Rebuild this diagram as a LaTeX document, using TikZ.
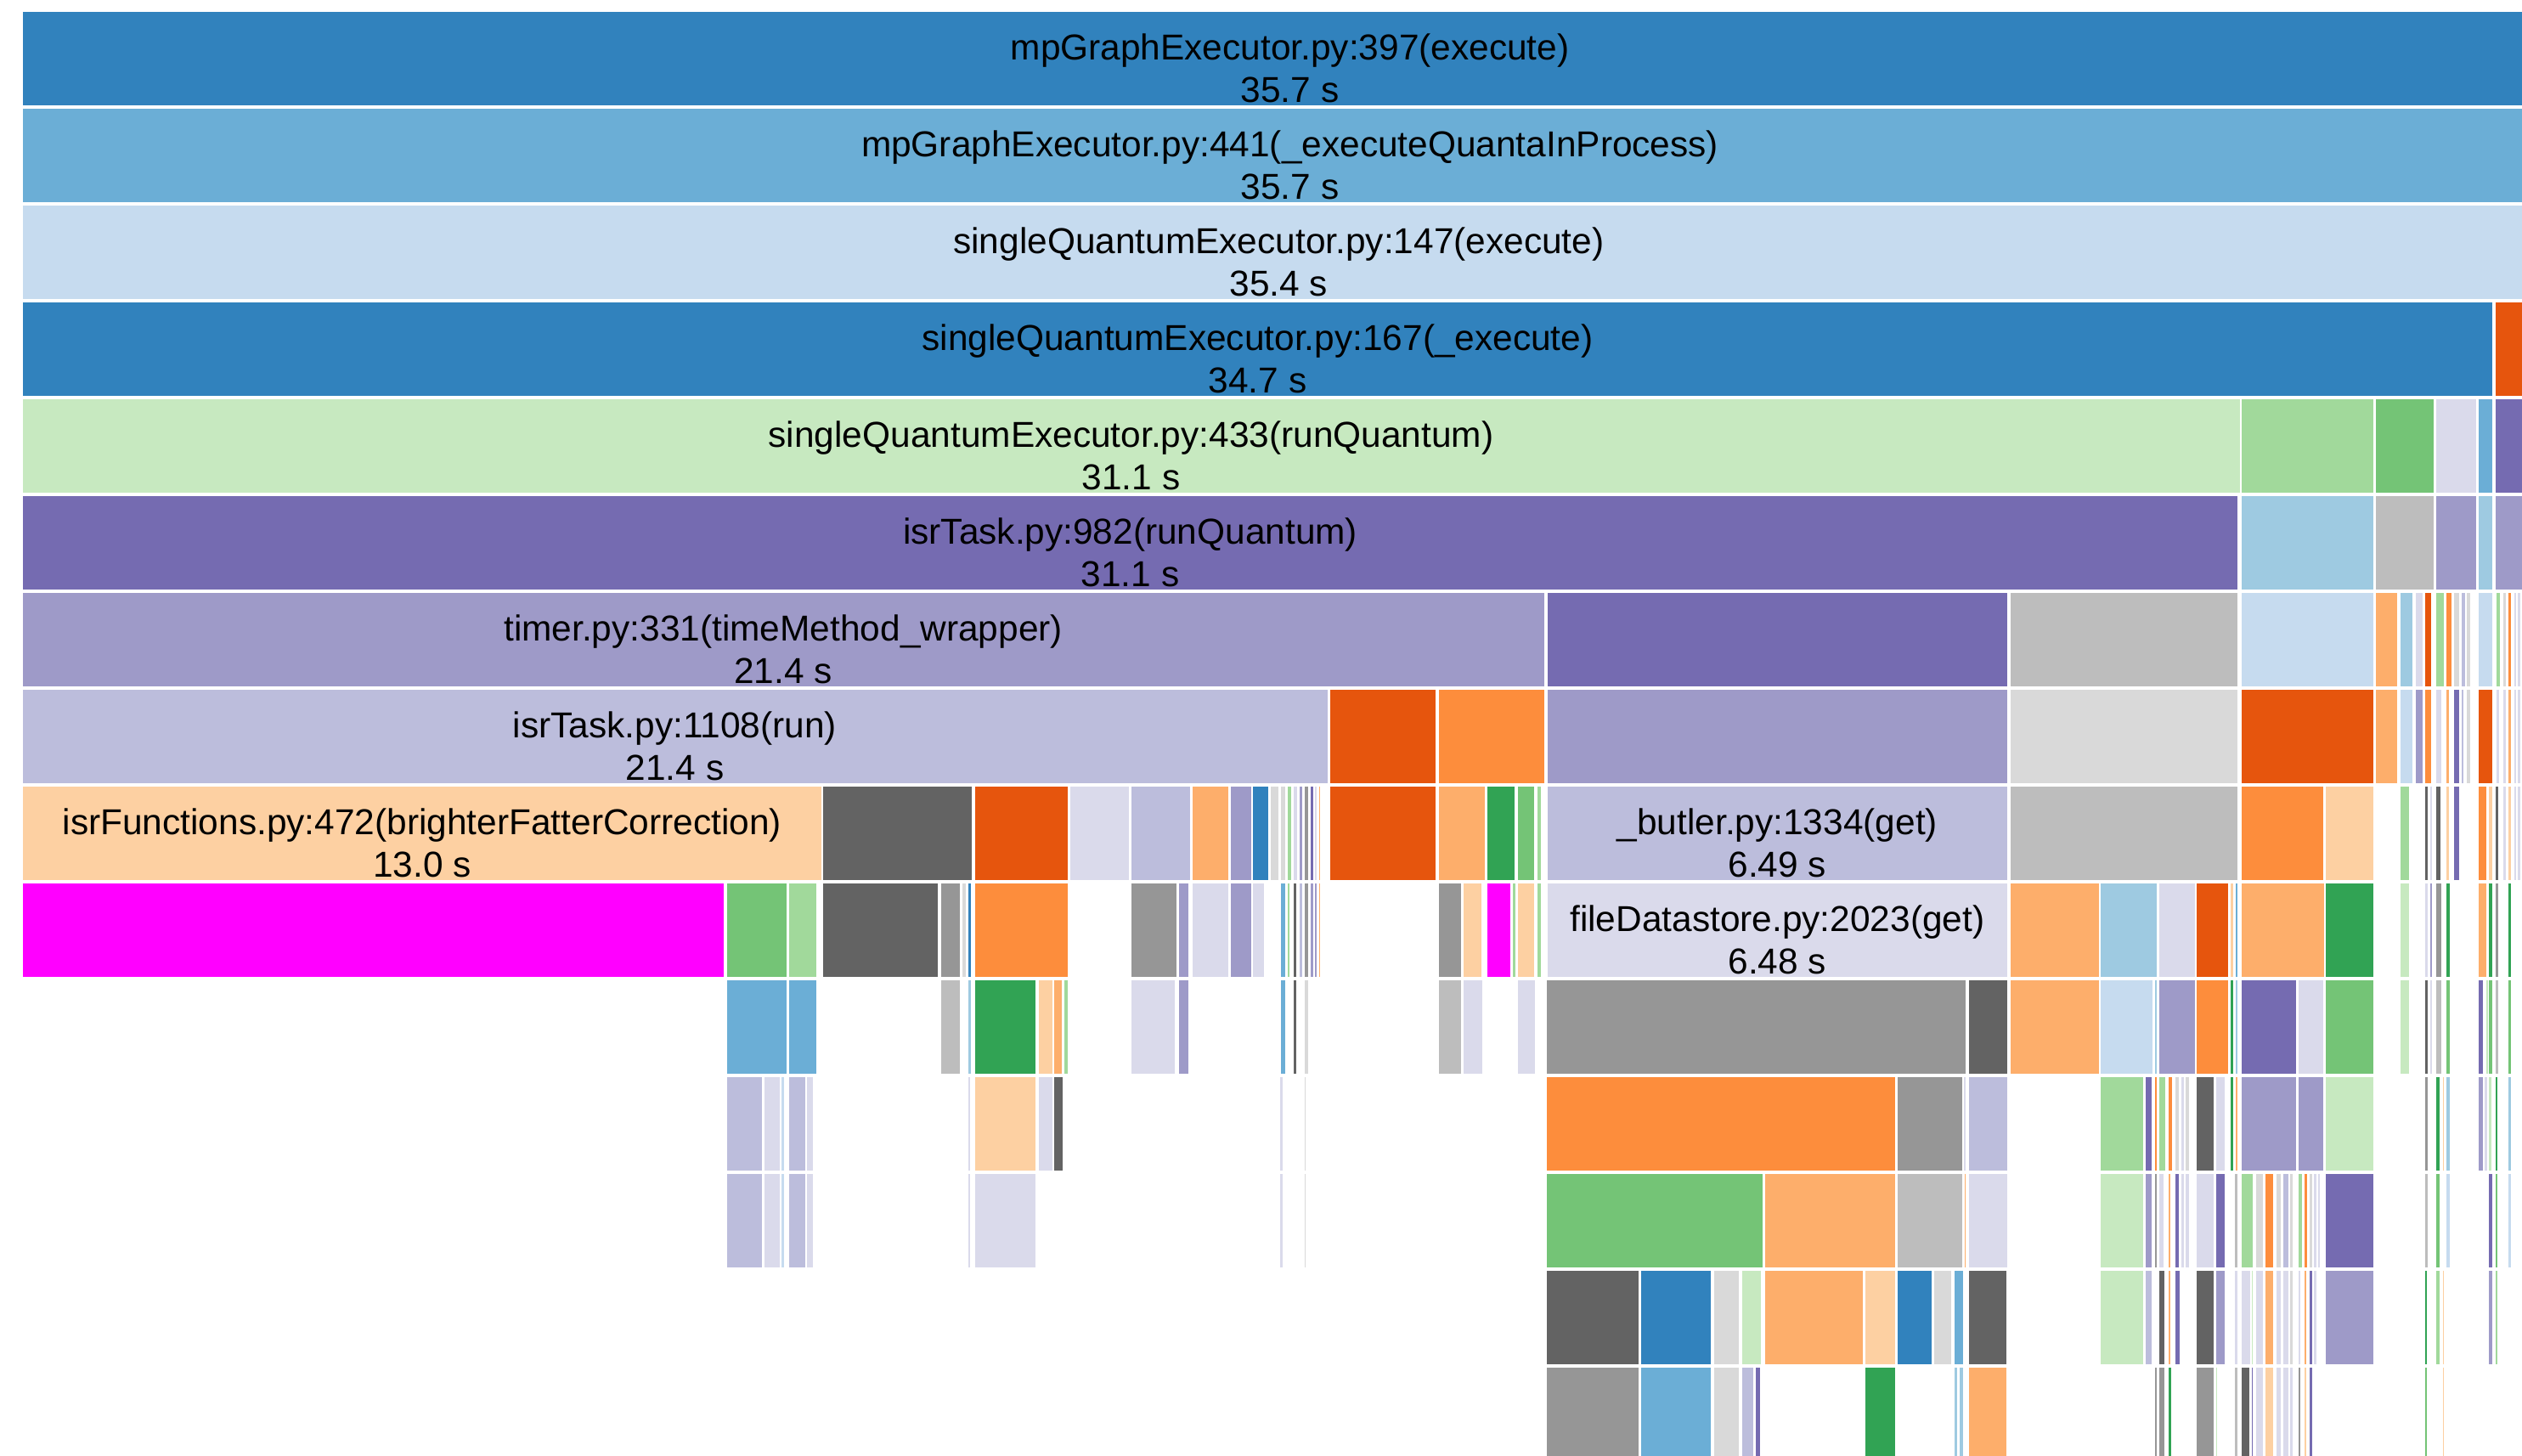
\documentclass[tikz,border=0pt]{standalone}
\usepackage{fontspec}
\setmainfont{Liberation Sans}
% d3 category20c palette
\definecolor{c3182bd}{HTML}{3182BD}
\definecolor{c6baed6}{HTML}{6BAED6}
\definecolor{c9ecae1}{HTML}{9ECAE1}
\definecolor{cc6dbef}{HTML}{C6DBEF}
\definecolor{ce6550d}{HTML}{E6550D}
\definecolor{cfd8d3c}{HTML}{FD8D3C}
\definecolor{cfdae6b}{HTML}{FDAE6B}
\definecolor{cfdd0a2}{HTML}{FDD0A2}
\definecolor{c31a354}{HTML}{31A354}
\definecolor{c74c476}{HTML}{74C476}
\definecolor{ca1d99b}{HTML}{A1D99B}
\definecolor{cc7e9c0}{HTML}{C7E9C0}
\definecolor{c756bb1}{HTML}{756BB1}
\definecolor{c9e9ac8}{HTML}{9E9AC8}
\definecolor{cbcbddc}{HTML}{BCBDDC}
\definecolor{cdadaeb}{HTML}{DADAEB}
\definecolor{c636363}{HTML}{636363}
\definecolor{c969696}{HTML}{969696}
\definecolor{cbdbdbd}{HTML}{BDBDBD}
\definecolor{cd9d9d9}{HTML}{D9D9D9}
\definecolor{cff00ff}{HTML}{FF00FF}
% one row of frames: row number, list of x-start/x-end/colour
\newcommand{\fgrowbars}[2]{%
  \foreach \xa/\xb/\cc in {#2} {%
    \fill[fill=\cc] (\xa,{7.4+(#1-1)*60.2}) rectangle (\xb,{65.6+(#1-1)*60.2});
  }%
}
% two-line frame caption: node name, row, centre x, function, time
\newcommand{\fgcaption}[5]{%
  \node[fglabel] (#1) at (#3,{37.2+(#2-1)*60.2}) {#4};
  \node[fglabel] (#1-time) at (#3,{63.9+(#2-1)*60.2}) {#5};
}
\tikzset{fglabel/.style={anchor=base, inner sep=0pt, text=black,
  font=\fontsize{22.4}{26}\selectfont}}
\begin{document}
\begin{tikzpicture}[x=1pt,y=-1pt]
\useasboundingbox (0,0) rectangle (1568,905);
\fill[white] (0,0) rectangle (1568,905);
\clip (0,0) rectangle (1568,905);

\fgrowbars{1}{14/1590/c3182bd}
\fgrowbars{2}{14/1590/c6baed6}
\fgrowbars{3}{14/1590/cc6dbef}
\fgrowbars{4}{14/1549.7/c3182bd, 1551.5/1590/ce6550d}
\fgrowbars{5}{14/1392.5/cc7e9c0, 1393.9/1475.8/ca1d99b, 1477.4/1513.1/c74c476,
  1514.5/1539.5/cdadaeb, 1541.3/1549.7/c6baed6, 1551.5/1590/c756bb1}
\fgrowbars{6}{14/1391.3/c756bb1, 1393.9/1475.8/c9ecae1, 1477.4/1513.1/cbdbdbd,
  1514.5/1539.5/c9e9ac8, 1541.3/1549.7/c9ecae1, 1551.5/1590/c9e9ac8}
\fgrowbars{7}{14/960/c9e9ac8, 962/1248/c756bb1, 1250/1391.3/cbdbdbd,
  1393.9/1475.8/cc6dbef, 1477.4/1490.6/cfdae6b, 1492.4/1500/c9ecae1,
  1501.7/1506.4/cdadaeb, 1507.8/1511.7/ce6550d, 1514.5/1519.3/ca1d99b,
  1521/1524/cfd8d3c, 1525.8/1529/cd9d9d9, 1530.7/1532.5/cbcbddc,
  1533.9/1536/cd9d9d9, 1541.3/1549.7/cc6dbef, 1551.9/1554.5/ca1d99b,
  1556.3/1557.7/cd9d9d9, 1559.4/1561.2/cfd8d3c, 1563/1564.2/cdadaeb,
  1565.4/1566.8/cdadaeb}
\fgrowbars{8}{14/825.2/cbcbddc, 827.1/892.7/ce6550d, 894.6/960.1/cfd8d3c,
  962/1248/c9e9ac8, 1250/1391.3/cd9d9d9, 1393.9/1475.8/ce6550d,
  1477.4/1490.6/cfdae6b, 1492.4/1500/cc6dbef, 1501.7/1506.4/c9e9ac8,
  1507.8/1511.7/cfd8d3c, 1514.5/1518/cdadaeb, 1521/1522.8/cfdae6b,
  1525.8/1529/c756bb1, 1530.4/1531.6/cbcbddc, 1533.9/1535.7/cd9d9d9,
  1541/1549.7/ce6550d, 1551.9/1553.7/cdadaeb, 1556.3/1557.7/cdadaeb,
  1559.4/1561.2/cfdae6b, 1563/1564.2/cdadaeb, 1565.4/1566.8/cdadaeb}
\fgrowbars{9}{14/510.8/cfdd0a2, 511.9/604.2/c636363, 606.1/663.8/ce6550d,
  665.6/701.9/cdadaeb, 703.6/740/cbcbddc, 741.7/763.6/cfdae6b,
  765.1/777.7/c9e9ac8, 779.2/788.6/c3182bd, 790.3/794.7/cd9d9d9,
  796.4/798.8/cd9d9d9, 800.7/802.6/ca1d99b, 804.1/806.4/cdadaeb,
  807.9/809.8/c9e9ac8, 811.3/813.2/c969696, 814.7/816.4/c756bb1,
  817.7/818.6/cdadaeb, 820/820.7/cfdae6b, 827.1/892.7/ce6550d,
  894.6/922.9/cfdae6b, 924.8/941.6/c31a354, 943.5/954/c74c476,
  955.7/958.2/ca1d99b, 962/1248/cbcbddc, 1250/1391.3/cbdbdbd,
  1393.9/1444.5/cfd8d3c, 1446.2/1475.8/cfdd0a2, 1492.4/1497.6/ca1d99b,
  1507.8/1509.3/c636363, 1511/1511.9/cdadaeb, 1514.5/1517.5/c636363,
  1521/1522.8/cfdd0a2, 1525.8/1529/c756bb1, 1541/1545.7/cfd8d3c,
  1547.5/1549.7/cfdd0a2, 1551.5/1553.3/c636363, 1556.3/1557.7/cdadaeb,
  1559.4/1561.2/cfdd0a2, 1563/1564.2/cdadaeb, 1565.4/1566.8/cdadaeb}
\fgrowbars{10}{14/450.1/cff00ff, 451.9/489.1/c74c476, 490.6/507.6/ca1d99b,
  511.9/583/c636363, 584.9/596.8/c969696, 598.1/600.6/cd9d9d9,
  602.3/603.8/c3182bd, 606.1/663.8/cfd8d3c, 703.6/731.5/c969696,
  733/738.8/c9e9ac8, 741.7/763.6/cdadaeb, 765.1/777.7/c9e9ac8,
  779.2/786/cdadaeb, 796.4/798.8/c6baed6, 800.7/801.5/ca1d99b,
  804.1/805.8/c636363, 807.9/809.8/cbcbddc, 811.3/813.2/c969696,
  814.7/816.4/c9e9ac8, 817.7/818.6/c9e9ac8, 820/820.5/cfdae6b,
  894.6/908.6/c969696, 910.1/921/cfdd0a2, 924.8/939/cff00ff,
  940.6/942.2/ca1d99b, 943.5/954/cfdd0a2, 955.7/958.2/ca1d99b,
  962/1248/cdadaeb, 1249.9/1304.8/cfdae6b, 1306.2/1341.1/c9ecae1,
  1342.7/1364.4/cdadaeb, 1365.8/1385/ce6550d, 1386.7/1388.5/cfdd0a2,
  1389.9/1391.1/c6baed6, 1393.9/1444.8/cfdae6b, 1446.2/1475.3/c31a354,
  1492.4/1497.6/cc7e9c0, 1507.8/1509.3/cdadaeb, 1511/1511.9/c9e9ac8,
  1514.5/1517.9/c969696, 1521/1523.2/c31a354, 1541/1545.7/cfdae6b,
  1547.5/1549.7/c31a354, 1551.5/1553.3/c969696, 1559.4/1561.2/c31a354}
\fgrowbars{11}{451.9/489.1/c6baed6, 490.6/507.6/c6baed6, 584.9/596.8/cbdbdbd,
  602.3/603.8/c9ecae1, 606.1/643.8/c31a354, 645.7/654.1/cfdd0a2,
  655.6/660.4/cfdae6b, 661.9/663.6/ca1d99b, 703.6/730.5/cdadaeb,
  733/738.8/c9e9ac8, 796.4/798.8/c6baed6, 804.1/805.8/c636363,
  811.3/813.5/cd9d9d9, 894.6/908.6/cbdbdbd, 910.1/921.4/cdadaeb,
  943.5/954.4/cdadaeb, 961.9/1222.2/c969696, 1224/1248.1/c636363,
  1249.9/1304.8/cfdae6b, 1306.2/1338.5/cc6dbef, 1340/1341.1/c9ecae1,
  1342.7/1364.4/c9e9ac8, 1365.8/1385/cfd8d3c, 1386.7/1388.5/c31a354,
  1389.9/1391.1/c9ecae1, 1393.9/1427.4/c756bb1, 1429/1444.5/cdadaeb,
  1446.2/1475.3/c74c476, 1492.4/1497.6/cc7e9c0, 1507.8/1509.3/c636363,
  1511/1511.9/cdadaeb, 1514.5/1517.9/cbdbdbd, 1521/1523.2/c74c476,
  1541/1543.6/c756bb1, 1545.7/1546.6/cc7e9c0, 1547.5/1549.7/c74c476,
  1551.5/1553.3/cbdbdbd, 1559.4/1561.2/c74c476}
\fgrowbars{12}{451.9/473.7/cbcbddc, 475.5/484.6/cdadaeb, 485.9/487.2/cc6dbef,
  490.6/500.4/cbcbddc, 501.9/505.3/cdadaeb, 602.3/603.3/cdadaeb,
  606.1/643.8/cfdd0a2, 645.7/654.1/cdadaeb, 655.6/660.7/c636363,
  796/797.3/cdadaeb, 811.1/811.8/cd9d9d9, 961.9/1178.4/cfd8d3c,
  1179.8/1219.9/c969696, 1221.2/1222.2/cdadaeb, 1224/1247.8/cbcbddc,
  1306.2/1332.3/ca1d99b, 1333.9/1337.6/c756bb1, 1340/1341.1/cfd8d3c,
  1342.7/1346.4/ca1d99b, 1348.2/1350.6/cfd8d3c, 1352.4/1354.7/cd9d9d9,
  1356.4/1357.7/cdadaeb, 1359/1361.2/cd9d9d9, 1365.8/1376.3/c636363,
  1377.9/1383.4/cdadaeb, 1386.7/1388.5/c31a354, 1389.9/1391.1/cfdae6b,
  1393.9/1427.4/c9e9ac8, 1429/1444.5/c9e9ac8, 1446.2/1475.3/cc7e9c0,
  1507.8/1509.3/c969696, 1514.5/1517/c31a354, 1518.8/1519.5/cfdd0a2,
  1521/1523.2/c9ecae1, 1541/1543.6/c9e9ac8, 1544.8/1546.2/cdadaeb,
  1547.5/1549.2/cc7e9c0, 1551.5/1552.7/c31a354, 1559.4/1561.2/c9ecae1}
\fgrowbars{13}{451.9/473.7/cbcbddc, 475.5/484.6/cdadaeb, 485.9/487.2/cc6dbef,
  490.6/500.4/cbcbddc, 501.9/505.3/cdadaeb, 602.3/603.3/cdadaeb,
  606.1/643.8/cdadaeb, 796/797.3/cdadaeb, 811.1/811.8/cd9d9d9,
  961.9/1095.8/c74c476, 1097.5/1178.4/cfdae6b, 1179.8/1219.9/cbdbdbd,
  1221.4/1222.3/cfdae6b, 1224/1247.8/cdadaeb, 1306.2/1332.3/cc7e9c0,
  1333.9/1337.6/c9e9ac8, 1339.7/1341.1/c969696, 1342.7/1345/cdadaeb,
  1348.2/1349.6/cfdae6b, 1352.4/1354.7/c756bb1, 1356.4/1357.7/cdadaeb,
  1359/1360.8/cdadaeb, 1365.8/1376.3/cdadaeb, 1377.9/1383.4/c756bb1,
  1389.5/1391.1/cbdbdbd, 1393.9/1400.8/ca1d99b, 1402.6/1407/cd9d9d9,
  1408.7/1413.3/cfd8d3c, 1415.1/1418.1/cd9d9d9, 1419.8/1422.8/cbcbddc,
  1423.9/1425.5/cd9d9d9, 1429/1431.3/ca1d99b, 1433/1434.4/cfd8d3c,
  1436.2/1437.6/cd9d9d9, 1438.7/1440.1/cdadaeb, 1441.1/1442.2/cdadaeb,
  1446.2/1475.3/c756bb1, 1507.8/1509.3/cbdbdbd, 1514.5/1517/c74c476,
  1521/1523.2/cc6dbef, 1547.5/1549.7/c756bb1, 1551.5/1552.7/c74c476,
  1559.4/1561.2/cc6dbef}
\fgrowbars{14}{961.9/1018.5/c636363, 1020.4/1063.8/c3182bd,
  1065.5/1081.3/cd9d9d9, 1083.2/1094.9/cc7e9c0, 1097.5/1158/cfdae6b,
  1159.8/1178.4/cfdd0a2, 1179.8/1200.9/c3182bd, 1202.6/1213.3/cd9d9d9,
  1215/1220.3/c6baed6, 1224/1247.6/c636363, 1306.2/1332.3/cc7e9c0,
  1333.9/1337.6/cbcbddc, 1342.7/1345.4/c636363, 1348.5/1349.4/cfdae6b,
  1352.4/1355/c756bb1, 1365.8/1376.3/c636363, 1377.9/1383.4/c9e9ac8,
  1389.5/1391.1/cdadaeb, 1393.9/1399.2/cdadaeb, 1399.9/1400.8/cc7e9c0,
  1402.6/1407/cdadaeb, 1408.7/1413.3/cfdae6b, 1415.1/1418.1/cdadaeb,
  1419.8/1422.8/cdadaeb, 1423.9/1425.5/cd9d9d9, 1429/1430.4/cdadaeb,
  1433/1434/cfdae6b, 1435.8/1437.6/c756bb1, 1438.7/1440.1/cdadaeb,
  1446.2/1475.3/c9e9ac8, 1507.8/1508.9/c31a354, 1514.5/1517/ca1d99b,
  1518.8/1519.5/cfdd0a2, 1547.5/1549.7/c9e9ac8, 1551.5/1552.7/ca1d99b}
\fgrowbars{15}{961.9/1018.5/c969696, 1020.4/1063.8/c6baed6,
  1065.5/1081.1/cd9d9d9, 1083.2/1089.8/cbcbddc, 1091.5/1094.5/c756bb1,
  1160/1178.4/c31a354, 1215/1217/c9ecae1, 1218.5/1220.3/c9ecae1,
  1224/1247.6/cfdae6b, 1339.7/1341.1/c969696, 1342.7/1345.4/c969696,
  1348.2/1350/c31a354, 1365.8/1376.3/c969696, 1377.9/1378.5/cc7e9c0,
  1389.5/1391.1/cbdbdbd, 1393.9/1398.7/c636363, 1399.9/1400.8/c756bb1,
  1402.6/1407/cdadaeb, 1408.7/1413.3/cfdd0a2, 1415.1/1418.1/cdadaeb,
  1419.8/1422.8/cdadaeb, 1423.9/1425.5/cdadaeb, 1429/1430.4/c969696,
  1433/1434/cfdd0a2, 1435.8/1437.6/c756bb1, 1507.8/1508.9/c74c476,
  1518.8/1519.5/cfdd0a2}

% frame captions
\fgcaption{execute}{1}{802}{mpGraphExecutor.py:397(execute)}{35.7 s}
\fgcaption{quanta}{2}{802}{mpGraphExecutor.py:441(\_executeQuantaInProcess)}{35.7 s}
\fgcaption{sqexec}{3}{795}{singleQuantumExecutor.py:147(execute)}{35.4 s}
\fgcaption{sqpriv}{4}{781.9}{singleQuantumExecutor.py:167(\_execute)}{34.7 s}
\fgcaption{sqrun}{5}{703.2}{singleQuantumExecutor.py:433(runQuantum)}{31.1 s}
\fgcaption{isrrq}{6}{702.7}{isrTask.py:982(runQuantum)}{31.1 s}
\fgcaption{timer}{7}{487}{timer.py:331(timeMethod\_wrapper)}{21.4 s}
\fgcaption{isrrun}{8}{419.6}{isrTask.py:1108(run)}{21.4 s}
\fgcaption{bfc}{9}{262.4}{isrFunctions.py:472(brighterFatterCorrection)}{13.0 s}
\fgcaption{butler}{9}{1105}{\_butler.py:1334(get)}{6.49 s}
\fgcaption{datastore}{10}{1105}{fileDatastore.py:2023(get)}{6.48 s}
\end{tikzpicture}
\end{document}
